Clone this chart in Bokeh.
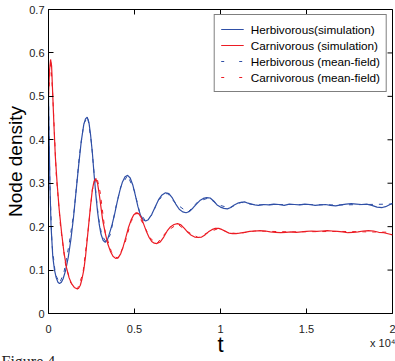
import math
from bokeh.plotting import figure
from bokeh.models import Legend, LegendItem, FixedTicker, Range1d, Title
from bokeh.embed import file_html
from bokeh.resources import INLINE

# time in units of 10^4
t_herb_sim = [0.000, 0.004, 0.008, 0.015, 0.025, 0.035, 0.045, 0.055, 0.064, 0.075, 0.085, 0.100,
              0.115, 0.130, 0.145, 0.160, 0.175, 0.190, 0.205, 0.215, 0.225, 0.235, 0.245, 0.255,
              0.265, 0.275, 0.285, 0.295, 0.305, 0.318, 0.330, 0.343, 0.355, 0.370, 0.385, 0.400,
              0.415, 0.430, 0.445, 0.460, 0.475, 0.490, 0.505, 0.520, 0.535, 0.550, 0.565, 0.580,
              0.600, 0.620, 0.640, 0.660, 0.680, 0.700, 0.720, 0.740, 0.760, 0.780, 0.800, 0.820,
              0.840, 0.860, 0.880, 0.900, 0.920, 0.940, 0.960, 0.980, 1.000, 1.020, 1.040, 1.060,
              1.080, 1.100, 1.120, 1.140, 1.160, 1.180, 1.200, 1.220, 1.250, 1.280, 1.310, 1.340,
              1.370, 1.400, 1.430, 1.460, 1.490, 1.520, 1.550, 1.580, 1.610, 1.640, 1.670, 1.700,
              1.730, 1.760, 1.790, 1.820, 1.850, 1.880, 1.910, 1.940, 1.960, 1.980, 2.000]
herb_sim = [0.50, 0.40, 0.30, 0.20, 0.13, 0.10, 0.082, 0.072, 0.069, 0.072, 0.080, 0.100,
            0.130, 0.170, 0.220, 0.280, 0.340, 0.395, 0.435, 0.448, 0.452, 0.440, 0.410, 0.370,
            0.320, 0.275, 0.235, 0.205, 0.183, 0.168, 0.164, 0.170, 0.185, 0.205, 0.230, 0.258,
            0.283, 0.303, 0.315, 0.318, 0.312, 0.296, 0.272, 0.246, 0.226, 0.216, 0.213, 0.216,
            0.228, 0.245, 0.262, 0.273, 0.278, 0.276, 0.266, 0.252, 0.240, 0.234, 0.232, 0.235,
            0.243, 0.252, 0.260, 0.265, 0.267, 0.266, 0.259, 0.250, 0.245, 0.242, 0.241, 0.244,
            0.250, 0.254, 0.256, 0.257, 0.254, 0.252, 0.250, 0.249, 0.251, 0.250, 0.252, 0.251,
            0.249, 0.252, 0.251, 0.250, 0.252, 0.251, 0.249, 0.250, 0.251, 0.249, 0.248, 0.250,
            0.252, 0.253, 0.252, 0.251, 0.252, 0.249, 0.245, 0.244, 0.246, 0.250, 0.254]

t_carn_sim = [0.000, 0.006, 0.012, 0.018, 0.025, 0.032, 0.040, 0.050, 0.062, 0.075, 0.090, 0.105,
              0.120, 0.135, 0.150, 0.165, 0.175, 0.185, 0.195, 0.205, 0.215, 0.225, 0.235, 0.245,
              0.255, 0.265, 0.275, 0.285, 0.295, 0.305, 0.315, 0.330, 0.345, 0.360, 0.375, 0.390,
              0.405, 0.420, 0.435, 0.450, 0.465, 0.480, 0.495, 0.510, 0.525, 0.540, 0.555, 0.570,
              0.585, 0.600, 0.615, 0.630, 0.650, 0.670, 0.690, 0.710, 0.730, 0.750, 0.770, 0.790,
              0.810, 0.830, 0.850, 0.870, 0.890, 0.910, 0.930, 0.950, 0.970, 0.990, 1.010, 1.030,
              1.050, 1.070, 1.090, 1.110, 1.140, 1.170, 1.200, 1.230, 1.260, 1.290, 1.320, 1.350,
              1.380, 1.410, 1.440, 1.470, 1.500, 1.530, 1.560, 1.590, 1.620, 1.650, 1.680, 1.710,
              1.740, 1.770, 1.800, 1.830, 1.860, 1.890, 1.920, 1.950, 1.980, 2.000]
carn_sim = [0.50, 0.56, 0.585, 0.57, 0.50, 0.43, 0.36, 0.30, 0.24, 0.19, 0.14, 0.105,
            0.082, 0.068, 0.060, 0.057, 0.058, 0.065, 0.080, 0.100, 0.130, 0.170, 0.210, 0.250,
            0.285, 0.305, 0.310, 0.300, 0.275, 0.245, 0.215, 0.185, 0.160, 0.143, 0.132, 0.127,
            0.128, 0.138, 0.155, 0.176, 0.198, 0.215, 0.227, 0.232, 0.230, 0.220, 0.204, 0.188,
            0.175, 0.166, 0.162, 0.161, 0.165, 0.176, 0.190, 0.200, 0.205, 0.207, 0.204, 0.196,
            0.187, 0.180, 0.176, 0.175, 0.176, 0.181, 0.188, 0.193, 0.196, 0.196, 0.193, 0.189,
            0.185, 0.184, 0.184, 0.185, 0.187, 0.189, 0.190, 0.191, 0.190, 0.188, 0.187, 0.186,
            0.187, 0.188, 0.187, 0.188, 0.189, 0.190, 0.189, 0.190, 0.191, 0.190, 0.189, 0.188,
            0.186, 0.187, 0.188, 0.190, 0.191, 0.190, 0.187, 0.186, 0.183, 0.181]

t_herb_mf = [0.000, 0.008, 0.020, 0.040, 0.065, 0.090, 0.120, 0.150, 0.180, 0.205, 0.228, 0.250,
             0.270, 0.290, 0.310, 0.335, 0.360, 0.390, 0.420, 0.460, 0.500, 0.530, 0.565, 0.600,
             0.640, 0.690, 0.740, 0.810, 0.870, 0.930, 0.990, 1.050, 1.120, 1.200, 1.400, 1.700,
             2.000]
herb_mf = [0.50, 0.30, 0.16, 0.09, 0.070, 0.095, 0.160, 0.240, 0.365, 0.437, 0.453, 0.392,
           0.300, 0.222, 0.180, 0.165, 0.182, 0.242, 0.292, 0.318, 0.282, 0.232, 0.213, 0.226,
           0.262, 0.277, 0.253, 0.233, 0.258, 0.266, 0.250, 0.243, 0.256, 0.250, 0.251, 0.250,
           0.252]

t_carn_mf = [0.000, 0.013, 0.025, 0.045, 0.070, 0.100, 0.130, 0.168, 0.200, 0.230, 0.255, 0.280,
             0.300, 0.330, 0.365, 0.400, 0.440, 0.480, 0.515, 0.555, 0.590, 0.630, 0.690, 0.750,
             0.810, 0.870, 0.930, 0.990, 1.050, 1.100, 1.200, 1.400, 1.700, 2.000]
carn_mf = [0.50, 0.585, 0.50, 0.32, 0.20, 0.11, 0.070, 0.056, 0.092, 0.190, 0.285, 0.316,
           0.280, 0.186, 0.143, 0.127, 0.156, 0.212, 0.232, 0.203, 0.174, 0.161, 0.190, 0.206,
           0.188, 0.175, 0.187, 0.196, 0.186, 0.184, 0.190, 0.188, 0.189, 0.187]

y_ticks = [0, 0.1, 0.2, 0.3, 0.4, 0.5, 0.6, 0.7]
y_tick_labels = ["0", "0.1", "0.2", "0.3", "0.4", "0.5", "0.6", "0.7"]
x_ticks = [0, 0.5, 1, 1.5, 2]
x_tick_labels = ["0", "0.5", "1", "1.5", "2"]
x_exponent_at = 1.945          # where the "x 10^4" multiplier note sits, in axis units
x_exponent_text = "x 10\u2074"

BLUE = "#2f4fa6"
RED = "#ec1c24"
FONT = "Liberation Sans"

p = figure(width=395, height=361, output_backend="svg", toolbar_location=None,
           x_range=Range1d(x_ticks[0], x_ticks[-1]), y_range=Range1d(y_ticks[0], y_ticks[-1]),
           min_border_left=48, min_border_right=3, min_border_top=9, min_border_bottom=48)
p.background_fill_color = "white"
p.border_fill_color = "white"
p.outline_line_color = "black"
p.outline_line_width = 1
p.xgrid.visible = False
p.ygrid.visible = False

xax = p.xaxis[0]
yax = p.yaxis[0]
x_overrides = {t: l for t, l in zip(x_ticks, x_tick_labels)}
x_overrides[x_exponent_at] = "\n" + x_exponent_text
xax.ticker = FixedTicker(ticks=x_ticks + [x_exponent_at])
xax.major_label_overrides = x_overrides
yax.ticker = FixedTicker(ticks=y_ticks)
yax.major_label_overrides = {t: l for t, l in zip(y_ticks, y_tick_labels)}
for ax in (xax, yax):
    ax.major_tick_in = 5
    ax.major_tick_out = 0
    ax.minor_tick_line_color = None
    ax.axis_line_color = "black"
    ax.major_tick_line_color = "black"
    ax.major_label_text_font = FONT
    ax.major_label_text_font_size = "11px"
    ax.major_label_text_color = "#222222"
    ax.axis_label_text_font = FONT
    ax.axis_label_text_font_style = "normal"
    ax.axis_label_text_color = "black"
# bottom tick marks are drawn as markers below, so the note's position gets no tick
xax.major_tick_line_color = None

yax.axis_label = "Node density"
yax.axis_label_text_font_size = "19px"
yax.major_label_standoff = 4
yax.axis_label_standoff = 0
xax.axis_label = "t"
xax.axis_label_text_font_size = "22px"
xax.major_label_standoff = 9
xax.axis_label_standoff = -20

# inward tick marks on the bottom, top and right edges of the box (clipped to the frame)
p.scatter(x=[x_ticks[-1]] * len(y_ticks), y=y_ticks, marker="dash", size=10,
          line_color="black", line_width=1)
p.scatter(x=x_ticks, y=[y_ticks[-1]] * len(x_ticks), marker="dash", size=10, angle=math.pi / 2,
          line_color="black", line_width=1)
p.scatter(x=x_ticks, y=[y_ticks[0]] * len(x_ticks), marker="dash", size=10, angle=math.pi / 2,
          line_color="black", line_width=1)

r3 = p.line(t_herb_mf, herb_mf, line_color=BLUE, line_width=1.0, line_dash="4 6")
r4 = p.line(t_carn_mf, carn_mf, line_color=RED, line_width=1.0, line_dash="4 6")
r1 = p.line(t_herb_sim, herb_sim, line_color=BLUE, line_width=1.2)
r2 = p.line(t_carn_sim, carn_sim, line_color=RED, line_width=1.2)

# legend glyph proxies (no visible data) for the dash pattern in the legend
l3 = p.line([0, 0], [-1, -1], line_color=BLUE, line_width=1.0, line_dash="3 15")
l4 = p.line([0, 0], [-1, -1], line_color=RED, line_width=1.0, line_dash="3 15")

legend = Legend(items=[
    LegendItem(label="Herbivorous(simulation)", renderers=[r1]),
    LegendItem(label="Carnivorous (simulation)", renderers=[r2]),
    LegendItem(label="Herbivorous (mean-field)", renderers=[l3]),
    LegendItem(label="Carnivorous (mean-field)", renderers=[l4]),
], location="top_right")
legend.label_text_font = FONT
legend.label_text_font_size = "11.75px"
legend.label_text_color = "black"
legend.label_height = 16
legend.glyph_height = 16
legend.glyph_width = 23
legend.label_standoff = 7
legend.spacing = 0
legend.padding = 6
legend.margin = 5
legend.border_line_color = "black"
legend.border_line_width = 1
legend.background_fill_color = "white"
legend.background_fill_alpha = 1
p.add_layout(legend, "center")

# the cut-off caption of the next figure at the bottom edge
p.add_layout(Title(text="Figure 4", align="left", standoff=-17, offset=-47,
                   text_font="Liberation Serif", text_font_size="16px", text_font_style="normal",
                   text_color="#222222"), "below")

open("out.html", "w").write(file_html(p, INLINE))
